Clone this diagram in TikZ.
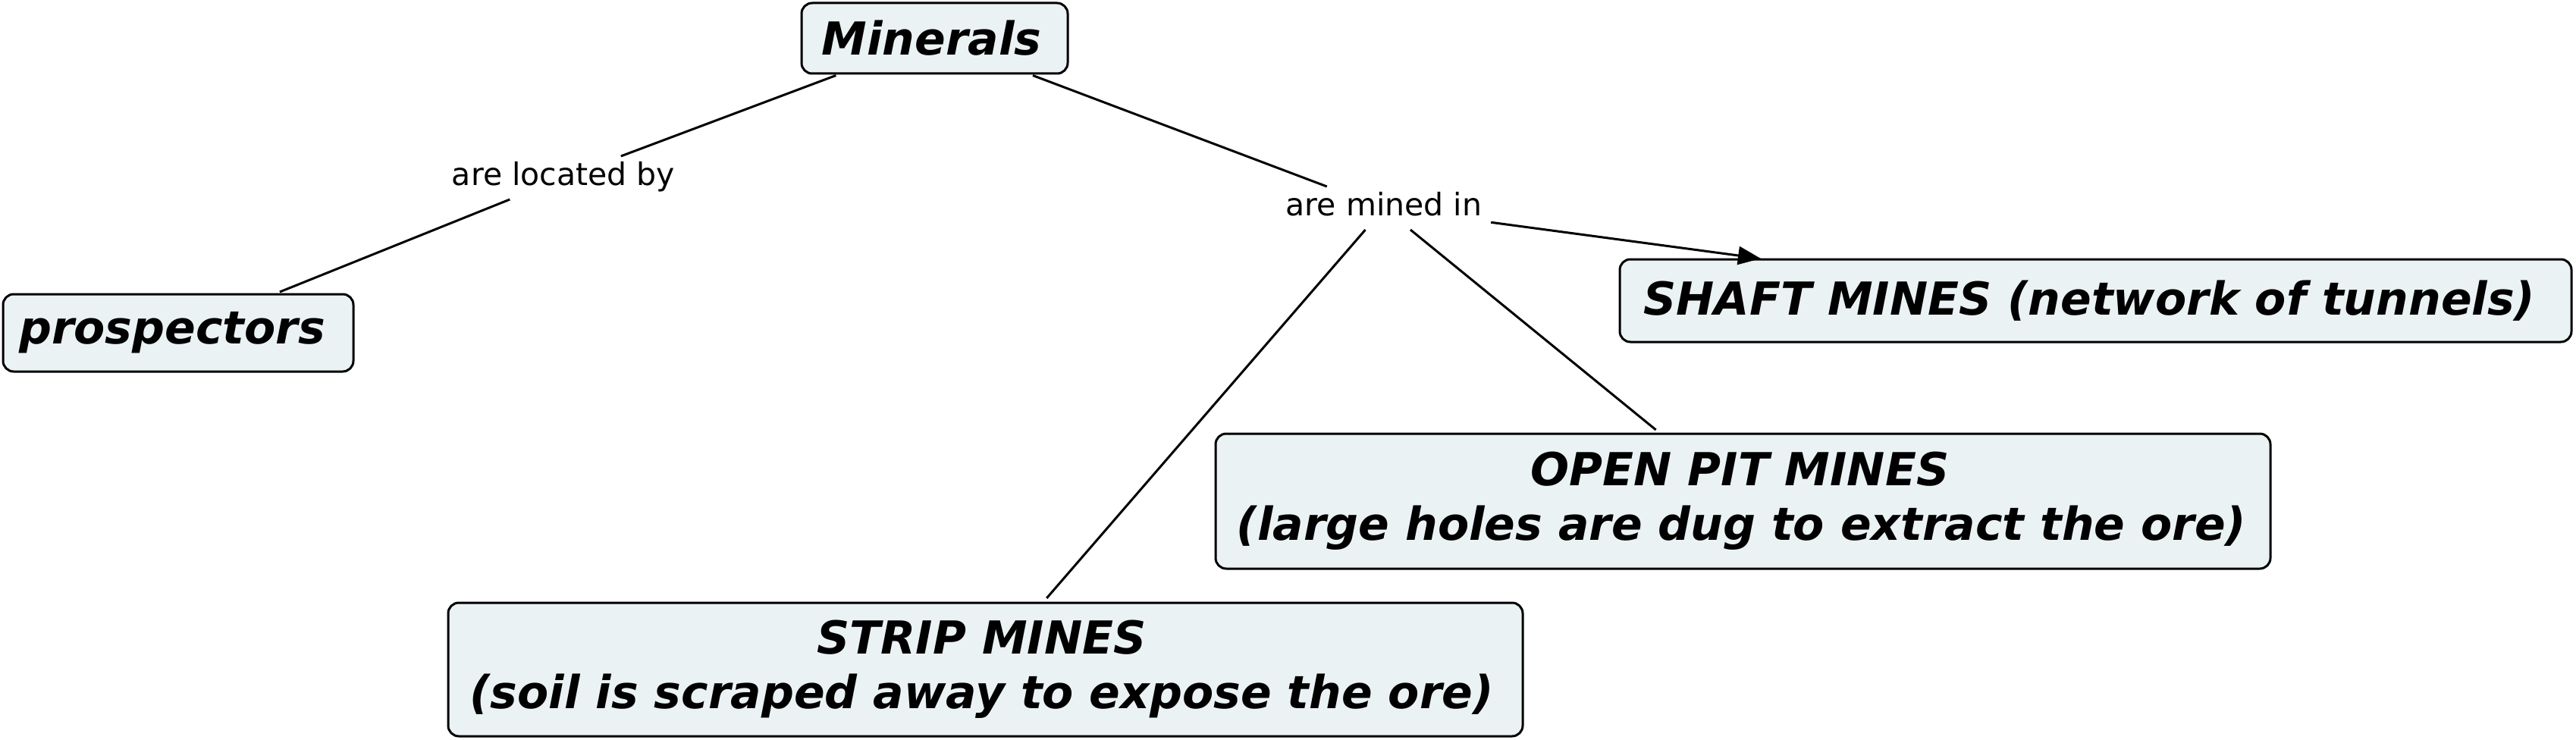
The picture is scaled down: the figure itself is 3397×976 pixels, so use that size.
\documentclass[tikz,border=0pt]{standalone}
\usepackage{fontspec}
\setmainfont{DejaVu Sans}
\usetikzlibrary{arrows.meta}
\definecolor{boxfill}{RGB}{235,242,244}
\begin{document}
\begin{tikzpicture}[x=1pt,y=-1pt,
  concept/.style={draw=black, line width=3pt, fill=boxfill, rounded corners=14pt,
    font=\fontsize{60}{72}\selectfont\bfseries\itshape, align=center, inner sep=0pt, outer sep=0pt},
  linkword/.style={font=\fontsize{41}{48}\selectfont, text height=31pt, text depth=10pt,
    inner xsep=12pt, inner ysep=8pt, outer sep=0pt},
  conn/.style={line width=3pt},
  fromc/.style={shorten <=7pt},
  toc/.style={shorten >=8pt}]
\useasboundingbox (0,0) rectangle (3397,976);
\node[concept, minimum width=351pt, minimum height=93pt] (minerals) at (1232.5,50.5) {Minerals\kern8pt};
\node[concept, minimum width=462pt, minimum height=102pt] (prosp) at (235,439) {prospectors\kern16pt};
\node[concept, minimum width=1255pt, minimum height=109pt] (shaft) at (2763.5,396.5) {SHAFT MINES (network of tunnels)\kern16pt};
\node[concept, minimum width=1391pt, minimum height=178pt] (open) at (2298.5,661) {OPEN PIT MINES\kern8pt\\(large holes are dug to extract the ore)\kern4pt};
\node[concept, minimum width=1417pt, minimum height=176pt] (strip) at (1299.5,883) {STRIP MINES\kern10pt\\(soil is scraped away to expose the ore)\kern10pt};
\node[linkword, anchor=base] (located) at (743,245) {are located by};
\node[linkword, anchor=base] (mined) at (1825,285) {are mined in};
\coordinate (shafttip) at (2322,341);
\draw[conn, fromc] (minerals) -- (located);
\draw[conn, toc] (located) -- (prosp);
\draw[conn, fromc] (minerals) -- (mined);
\draw[conn, toc] (mined) -- (strip);
\draw[conn, toc] (mined) -- (open);
\draw[conn, -{Triangle[length=30pt,width=24pt]}] (mined) -- (shafttip);
\end{tikzpicture}
\end{document}
